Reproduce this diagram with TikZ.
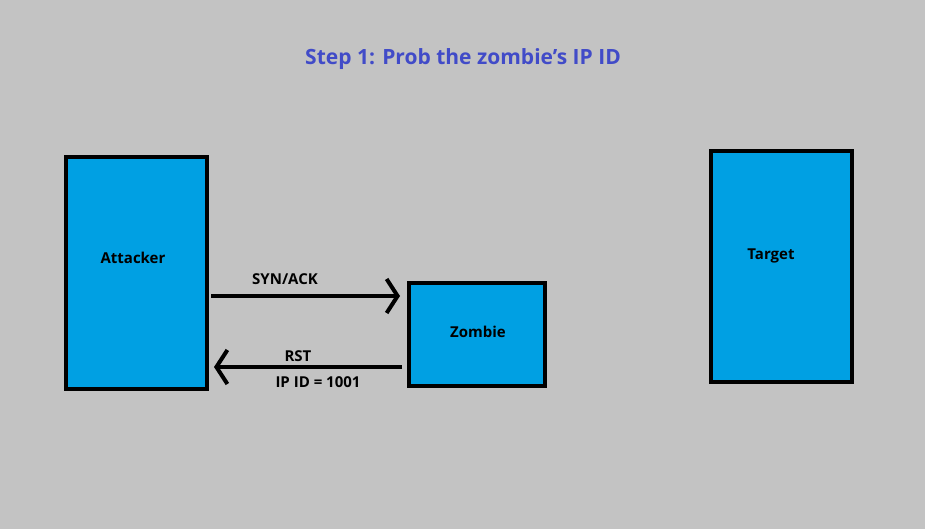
\documentclass[tikz,border=0pt]{standalone}
\usepackage{fontspec}
\setmainfont{Open Sans}
\usetikzlibrary{arrows.meta}
\definecolor{my_bg}{RGB}{195,195,195}
\definecolor{my_blue}{RGB}{0,160,227}
\definecolor{my_title}{RGB}{65,75,200}
\tikzset{
  host/.style={draw=black, line width=4pt, fill=my_blue},
  txt/.style={font=\bfseries\fontsize{15}{17}\selectfont, inner sep=0pt},
  msg/.style={line width=4pt, -{Straight Barb[length=11pt,width=34pt,line width=4pt]}}
}
\begin{document}
\begin{tikzpicture}[x=1pt,y=-1pt]
\fill[my_bg] (0,0) rectangle (925,529);
\useasboundingbox (0,0) rectangle (925,529);
\node[font=\bfseries\fontsize{21}{25}\selectfont, text=my_title] (title) at (463,59) {Step 1: Prob the zombie's IP ID};
\draw[host] (66,157) rectangle (207,389);
\draw[host] (409,283) rectangle (545,386);
\draw[host] (711,151) rectangle (852,382);
\node[txt] (attacker) at (133,258) {Attacker};
\node[txt] (zombie) at (478,332) {Zombie};
\node[txt] (target) at (771,256) {Target};
\coordinate (synA) at (211,296);
\coordinate (synZ) at (400,296);
\coordinate (rstZ) at (402,367);
\coordinate (rstA) at (214,367);
\draw[msg] (synA) -- (synZ);
\draw[msg] (rstZ) -- (rstA);
\node[txt] (synack) at (285,279) {SYN/ACK};
\node[txt] (rst) at (298,356) {RST};
\node[txt] (ipid) at (318,382) {IP ID = 1001};
\end{tikzpicture}
\end{document}
